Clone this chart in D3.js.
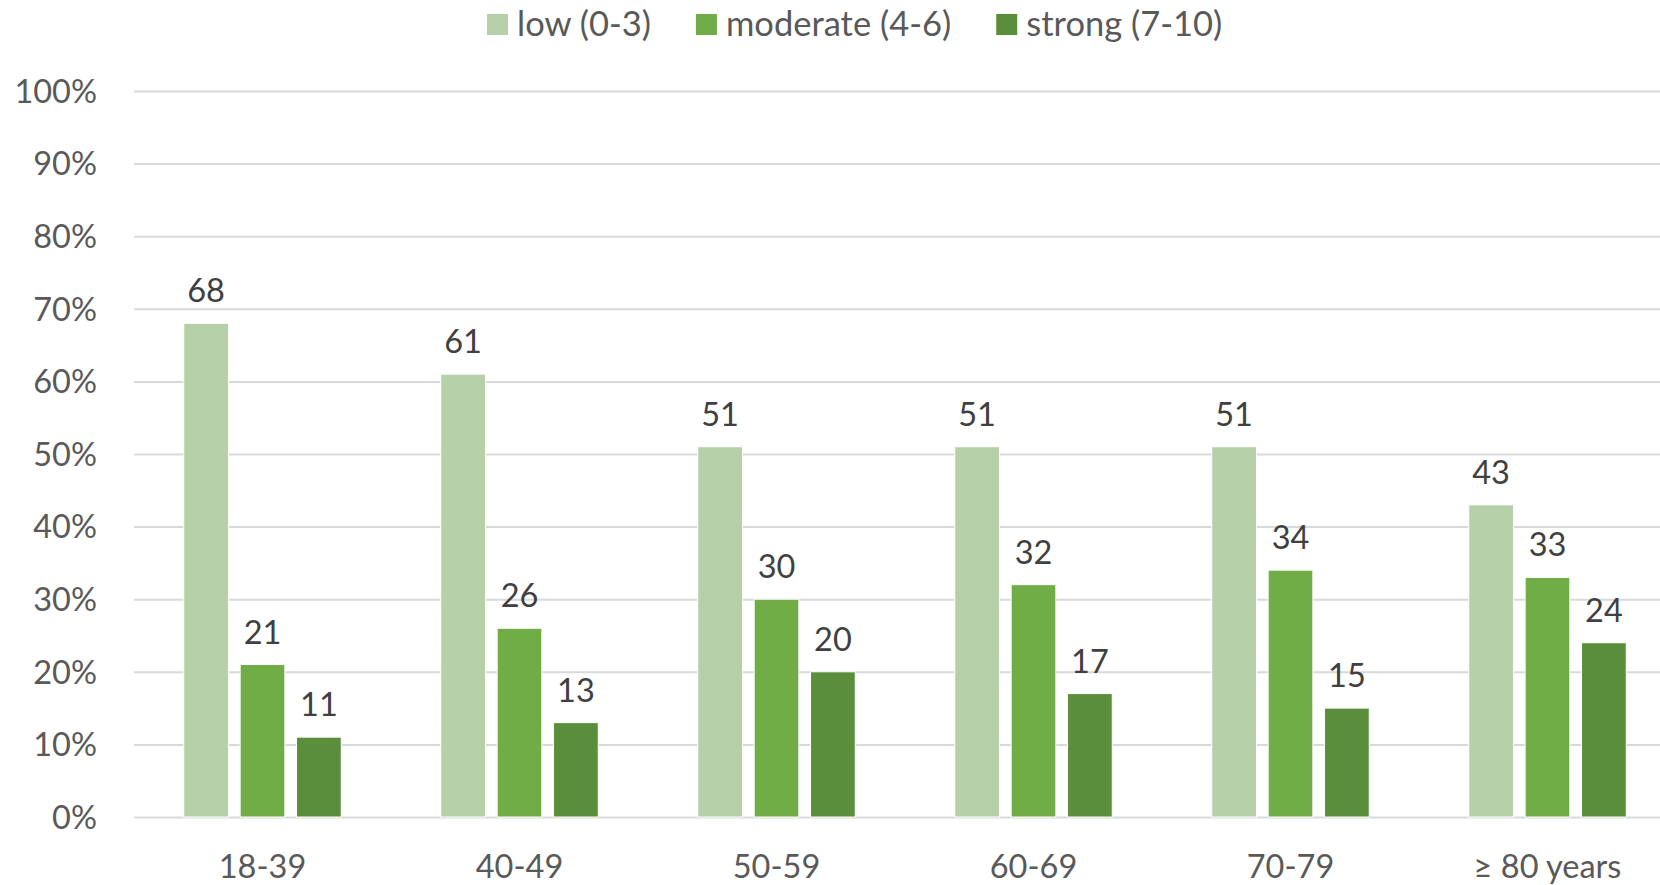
<!DOCTYPE html>
<html><head><meta charset="utf-8">
<script src="https://cdn.jsdelivr.net/npm/d3@7"></script>
<style>
html,body{margin:0;padding:0;background:#fff;overflow:hidden;}
text{font-family:Lato, "Open Sans", sans-serif;}
</style></head>
<body>
<svg id="chart" width="1660" height="885"></svg>
<script>
const categories = ["18-39","40-49","50-59","60-69","70-79","\u2265 80 years"];
const seriesNames = ["low (0-3)","moderate (4-6)","strong (7-10)"];
const lowValues = [68,61,51,51,51,43];
const moderateValues = [21,26,30,32,34,33];
const strongValues = [11,13,20,17,15,24];
const yTicks = [0,10,20,30,40,50,60,70,80,90,100];
const colors = ["#B5CFA8","#70AD47","#5B8E3A"];

const seriesValues = [lowValues, moderateValues, strongValues];
const svg = d3.select("#chart");
const mLeft = 134, mRight = 1676, mTop = 91, mBottom = 817;
const fs = 32.5, legFs = 34.5;

const y = d3.scaleLinear().domain([0,100]).range([mBottom, mTop]);
const x0 = d3.scaleBand().domain(categories).range([mLeft, mRight]).padding(0);
const groupW = 157.5;
const x1 = d3.scaleBand().domain(seriesNames)
  .range([(x0.step()-groupW)/2, (x0.step()+groupW)/2]).paddingInner(0.207).paddingOuter(0);

// gridlines
const yAxis = d3.axisLeft(y).tickValues(yTicks).tickSize(-(mRight-mLeft)).tickFormat(d => d + "%");
const gy = svg.append("g").attr("transform", `translate(${mLeft},0)`).call(yAxis);
gy.select(".domain").remove();
gy.selectAll(".tick line").attr("stroke","#D9D9D9").attr("stroke-width",2);
gy.selectAll(".tick text").attr("x",-37).attr("fill","#595959").attr("font-size",fs)
  .attr("font-family","Lato").attr("dy","0.35em");

// bars
const groups = svg.append("g").selectAll("g").data(categories).join("g")
  .attr("transform", d => `translate(${x0(d)},0)`);
groups.each(function(cat, ci){
  const g = d3.select(this);
  seriesNames.forEach((s, si) => {
    const v = seriesValues[si][ci];
    g.append("rect").attr("x", x1(s)).attr("width", x1.bandwidth())
      .attr("y", y(v)).attr("height", y(0)-y(v))
      .attr("fill", colors[si]).attr("stroke","#fff").attr("stroke-width",1);
    g.append("text").attr("x", x1(s)+x1.bandwidth()/2).attr("y", y(v)-21)
      .attr("text-anchor","middle").attr("fill","#404040").attr("font-size",fs).text(v);
  });
});

// x axis labels
const xAxis = d3.axisBottom(x0).tickSize(0);
const gx = svg.append("g").attr("transform", `translate(0,${mBottom})`).call(xAxis);
gx.select(".domain").remove();
gx.selectAll(".tick text").attr("fill","#595959").attr("font-size",fs)
  .attr("font-family","Lato").attr("dy",0).attr("y",61);

// legend
const legend = svg.append("g");
let lx = 487;
seriesNames.forEach((s, i) => {
  legend.append("rect").attr("x", lx).attr("y", 14).attr("width", 21).attr("height", 21).attr("fill", colors[i]);
  const t = legend.append("text").attr("x", lx+30).attr("y", 36).attr("fill","#595959")
    .attr("font-size",legFs).text(s);
  lx += 30 + t.node().getComputedTextLength() + 45;
});
</script>
</body></html>
